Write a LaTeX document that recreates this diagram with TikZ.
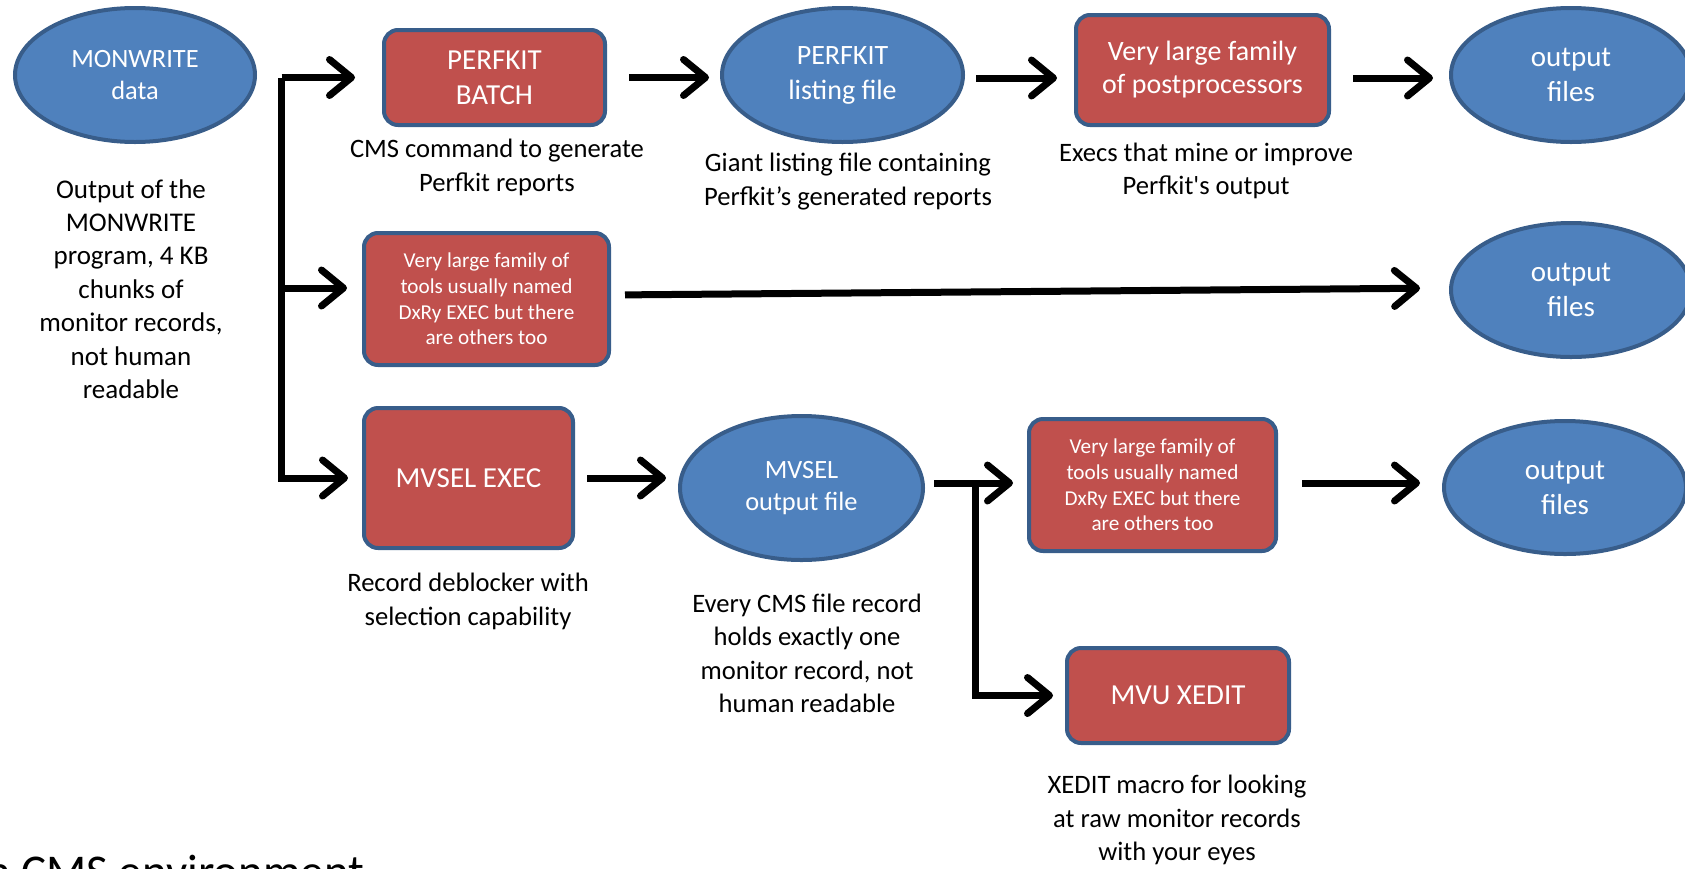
\documentclass[tikz,border=0pt]{standalone}
\usepackage{fontspec}
\setmainfont{Carlito}[Ligatures=TeXOff]
\usetikzlibrary{shapes.geometric,arrows.meta,calc}
\definecolor{bfill}{HTML}{4F81BD}
\definecolor{bline}{HTML}{385D8A}
\definecolor{rfill}{HTML}{C0504D}
\tikzset{
  oval/.style={ellipse, draw=bline, fill=bfill, line width=2pt, text=white, align=center, inner sep=0pt},
  tool/.style={rectangle, rounded corners=7pt, draw=bline, fill=rfill, line width=2pt, text=white, align=center, inner sep=0pt},
  note/.style={align=center, text=black, inner sep=0pt, font=\fontsize{13.3}{16.7}\selectfont},
  arr/.style={line width=3.5pt, line join=miter, -{Straight Barb[length=11pt,width=18pt,round]}},
  bigtxt/.style={font=\fontsize{14.5}{17.5}\selectfont},
  midtxt/.style={font=\fontsize{14}{16.5}\selectfont},
  outtxt/.style={font=\fontsize{14.5}{17.5}\selectfont},
  smtxt/.style={font=\fontsize{13.2}{15.8}\selectfont},
  tinytxt/.style={font=\fontsize{10.6}{12.9}\selectfont},
}
\begin{document}
\begin{tikzpicture}[x=0.5pt,y=-0.5pt]
\useasboundingbox (0,0) rectangle (1685,868);
% row 1
\node[oval, smtxt, minimum width=120pt, minimum height=67pt] (mw) at (135,75) {MONWRITE\\data};
\node[note, font=\fontsize{13.5}{16.7}\selectfont] (mwn) at (131,289) {Output of the\\MONWRITE\\program, 4 KB\\chunks of\\monitor records,\\not human\\readable};
\node[tool, bigtxt, minimum width=110.5pt, minimum height=47.5pt] (pb) at (494.5,77.5) {PERFKIT\\BATCH};
\node[note] (pbn) at (497,167.5) {CMS command to generate\\Perfkit reports};
\node[oval, font=\fontsize{14}{17.5}\selectfont, minimum width=120.5pt, minimum height=67pt] (lf) at (842.5,75) {PERFKIT\\listing file};
\node[note] (lfn) at (848,181.5) {Giant listing file containing\\Perfkit’s generated reports};
\node[tool, midtxt, minimum width=126.5pt, minimum height=55pt] (pp) at (1202.5,70) {Very large family\\of postprocessors};
\node[note] (ppn) at (1206,171) {Execs that mine or improve\\Perfkit's output};
\node[oval, outtxt, minimum width=120pt, minimum height=67pt] (o1) at (1571,75) {output\\files};
% row 2
\node[tool, tinytxt, minimum width=122.5pt, minimum height=66pt] (b2) at (486.5,299) {Very large family of\\tools usually named\\DxRy EXEC but there\\are others too};
\node[oval, outtxt, minimum width=120pt, minimum height=67pt] (o2) at (1571,290) {output\\files};
% row 3
\node[tool, bigtxt, minimum width=104.5pt, minimum height=70pt] (ex) at (468.5,478) {MVSEL EXEC};
\node[note] (exn) at (468,601.5) {Record deblocker with\\selection capability};
\node[oval, font=\fontsize{13.2}{16}\selectfont, minimum width=121.5pt, minimum height=72pt] (mo) at (801.5,488) {MVSEL\\output file};
\node[note] (mon) at (807,653.5) {Every CMS file record\\holds exactly one\\monitor record, not\\human readable};
\node[tool, tinytxt, minimum width=123.5pt, minimum height=66pt] (b3) at (1152.5,485) {Very large family of\\tools usually named\\DxRy EXEC but there\\are others too};
\node[oval, outtxt, minimum width=121pt, minimum height=66.5pt] (o3) at (1565,487.5) {output\\files};
\node[tool, bigtxt, minimum width=111pt, minimum height=47.5pt] (mvu) at (1178,695.5) {MVU XEDIT};
\node[note] (mvun) at (1177,820) {XEDIT macro for looking\\at raw monitor records\\with your eyes};
\node[anchor=base west, inner sep=0pt, font=\fontsize{23.5}{28}\selectfont] (env) at (-12,887) {a CMS environment};
% connectors
\coordinate (bx) at ($(pb.west)+(-100.5,0)$);
\coordinate (b2in) at ([yshift=5.5pt]b2.west);
\coordinate (b2out) at ([yshift=2pt]b2.east);
\coordinate (o2in) at ([yshift=1pt]o2.west);
\coordinate (b3in) at ([yshift=1pt]b3.west);
\draw[arr, shorten >=13.5pt] (bx |- pb.west) -- (pb.west);
\draw[arr, shorten >=7.5pt] (bx |- b2in) -- (b2in);
\draw[arr, shorten >=7pt] (bx |- pb.west) |- (ex.west);
\draw[arr, shorten <=11pt, shorten >=5.5pt] (pb.east) -- (pb.east -| lf.west);
\draw[arr, shorten <=5.5pt, shorten >=8.5pt] ([yshift=-1.5pt]lf.east) -- ([yshift=-1.5pt]lf.east -| pp.west);
\draw[arr, shorten <=11pt, shorten >=8pt] ([yshift=-1.5pt]o1.west -| pp.east) -- ([yshift=-1.5pt]o1.west);
\draw[arr, shorten <=7pt, shorten >=14.5pt] (b2out) -- (o2in);
\draw[arr, shorten <=6pt, shorten >=6pt] (ex.east) -- (ex.east -| mo.west);
\draw[arr, shorten <=4.5pt, shorten >=7pt] (b3in -| mo.east) -- (b3in);
\coordinate (j2) at ($(b3in -| mo.east)+(50,0)$);
\draw[arr, shorten >=6pt] (j2) |- (mvu.west);
\draw[arr, shorten <=12pt, shorten >=11pt] (b3in -| b3.east) -- (b3in -| o3.west);
\end{tikzpicture}
\end{document}
